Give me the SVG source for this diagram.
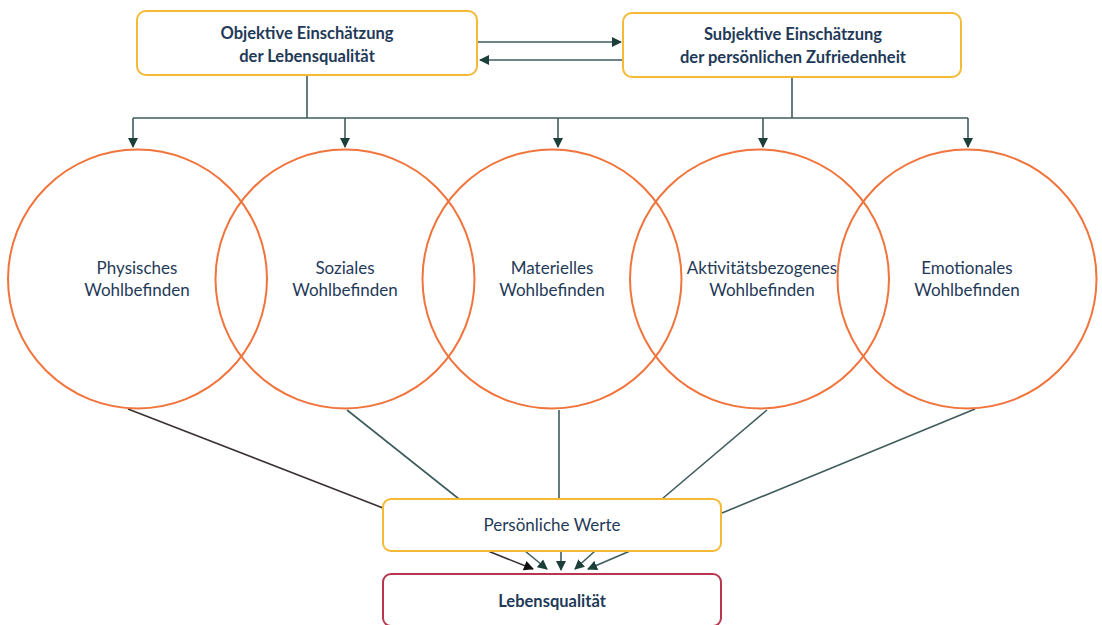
<svg xmlns="http://www.w3.org/2000/svg" width="1102" height="625" viewBox="0 0 1102 625">
<style>
.box{fill:#fff;stroke:#f5b936;stroke-width:2}
.res{fill:#fff;stroke:#b8374e;stroke-width:2}
.circ{fill:none;stroke:#f0743c;stroke-width:2}
.t{font-family:Lato,"Open Sans","Liberation Sans",sans-serif;font-size:17px;fill:#1f3a58;text-anchor:middle}
.b{font-weight:bold;font-size:16.5px}
.c{fill:none;stroke:#3f5c5c;stroke-width:1.6}
.d{fill:none;stroke:#3a3030;stroke-width:1.6}
</style>
<defs>
<marker id="ah" markerWidth="10" markerHeight="10" refX="9" refY="5" orient="auto" markerUnits="userSpaceOnUse">
<path d="M0,0 L10,5 L0,10 z" fill="#1d3f3a"/>
</marker>
<marker id="ahk" markerWidth="10" markerHeight="10" refX="9" refY="5" orient="auto" markerUnits="userSpaceOnUse">
<path d="M0,0 L10,5 L0,10 z" fill="#111"/>
</marker>
</defs>
<rect width="1102" height="625" fill="#fff"/>
<g id="connectors">
<line class="c" x1="478" y1="42" x2="621" y2="42" marker-end="url(#ah)"/>
<line class="c" x1="623" y1="60" x2="480" y2="60" marker-end="url(#ah)"/>
<polyline class="c" points="307,75 307,118"/>
<polyline class="c" points="792,77 792,118"/>
<line class="c" x1="133" y1="118" x2="968" y2="118"/>
<line class="c" x1="133" y1="118" x2="133" y2="147" marker-end="url(#ah)"/>
<line class="c" x1="345" y1="118" x2="345" y2="147" marker-end="url(#ah)"/>
<line class="c" x1="558" y1="118" x2="558" y2="147" marker-end="url(#ah)"/>
<line class="c" x1="763" y1="118" x2="763" y2="147" marker-end="url(#ah)"/>
<line class="c" x1="968" y1="118" x2="968" y2="147" marker-end="url(#ah)"/>
<line class="d" x1="128" y1="409" x2="383" y2="508"/>
<line class="c" x1="347" y1="410" x2="459" y2="499"/>
<line class="c" x1="559" y1="410" x2="559" y2="499"/>
<line class="c" x1="767" y1="410" x2="662" y2="499"/>
<line class="c" x1="975" y1="409" x2="722" y2="513"/>
<line class="d" x1="488" y1="551" x2="533" y2="569" marker-end="url(#ahk)"/>
<line class="c" x1="525" y1="551" x2="547" y2="569" marker-end="url(#ah)"/>
<line class="c" x1="561" y1="551" x2="561" y2="570" marker-end="url(#ah)"/>
<line class="c" x1="595" y1="551" x2="575" y2="569" marker-end="url(#ah)"/>
<line class="c" x1="630" y1="551" x2="588" y2="569" marker-end="url(#ah)"/>
</g>
<g id="objektiv">
<rect class="box" x="137" y="11" width="340" height="64" rx="9"/>
<text class="t b" x="307" y="39">Objektive Einschätzung</text>
<text class="t b" x="307" y="62">der Lebensqualität</text>
</g>
<g id="subjektiv">
<rect class="box" x="623" y="13" width="338" height="64" rx="9"/>
<text class="t b" x="793" y="40">Subjektive Einschätzung</text>
<text class="t b" x="793" y="63">der persönlichen Zufriedenheit</text>
</g>
<g id="physisch">
<circle class="circ" cx="137.5" cy="279" r="129.5"/>
<text class="t" x="137" y="274">Physisches</text>
<text class="t" x="137" y="296">Wohlbefinden</text>
</g>
<g id="sozial">
<circle class="circ" cx="345" cy="279" r="129.5"/>
<text class="t" x="345" y="274">Soziales</text>
<text class="t" x="345" y="296">Wohlbefinden</text>
</g>
<g id="materiell">
<circle class="circ" cx="552" cy="279" r="129.5"/>
<text class="t" x="552" y="274">Materielles</text>
<text class="t" x="552" y="296">Wohlbefinden</text>
</g>
<g id="aktivitaet">
<circle class="circ" cx="759.5" cy="279" r="129.5"/>
<text class="t" x="762" y="274">Aktivitätsbezogenes</text>
<text class="t" x="762" y="296">Wohlbefinden</text>
</g>
<g id="emotional">
<circle class="circ" cx="967" cy="279" r="129.5"/>
<text class="t" x="967" y="274">Emotionales</text>
<text class="t" x="967" y="296">Wohlbefinden</text>
</g>
<g id="werte">
<rect class="box" x="383" y="499" width="338" height="52" rx="8"/>
<text class="t" x="552" y="531">Persönliche Werte</text>
</g>
<g id="lebensqualitaet">
<rect class="res" x="383" y="574" width="338" height="52" rx="8"/>
<text class="t b" x="552" y="607">Lebensqualität</text>
</g>
</svg>
